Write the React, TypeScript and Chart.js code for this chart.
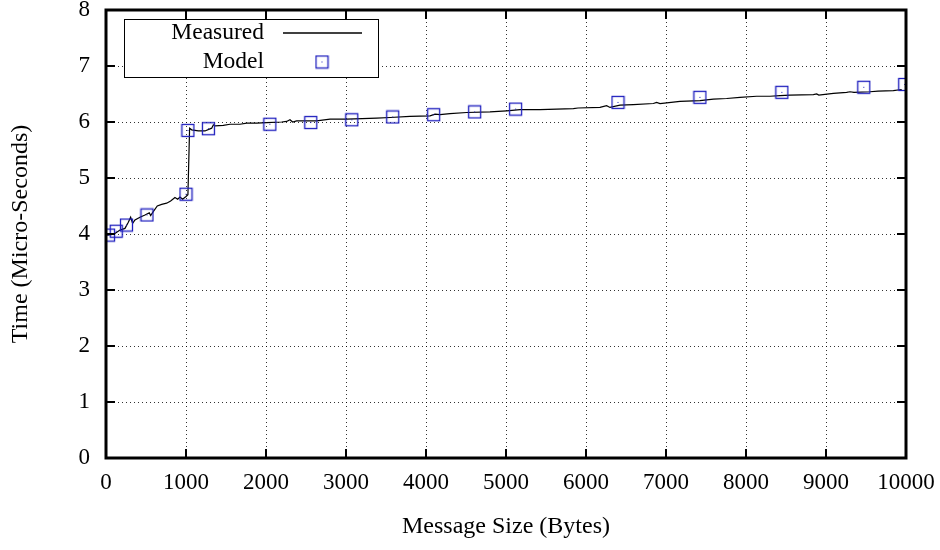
import React, { useEffect, useRef } from "react";
import { Chart, registerables } from "chart.js";

Chart.register(...registerables);

const measuredSizes = [
  8, 64, 112, 175, 237, 279, 308, 333, 362, 425, 487, 541, 558, 591, 641, 696, 758, 808, 862, 896,
  925, 958, 1000, 1024, 1045, 1071, 1154, 1237, 1321, 1342, 1362, 1466, 1550, 1675, 1758, 1883,
  2008, 2196, 2258, 2300, 2333, 2383, 2463, 2550, 2633, 2800, 3008, 3200, 3383, 3550, 3800, 4050,
  4113, 4175, 4300, 4508, 4800, 5008, 5175, 5425, 5842, 5900, 6175, 6258, 6300, 6425, 6592, 6842,
  6883, 6925, 7175, 7425, 7592, 7758, 7925, 8133, 8300, 8425, 8550, 8842, 8883, 8910, 9092, 9258,
  9300, 9350, 9550, 9650, 9842, 9946,
];
const measuredTimes = [
  3.98, 3.99, 4.01, 4.07, 4.1, 4.21, 4.3, 4.19, 4.25, 4.3, 4.34, 4.38, 4.33, 4.4, 4.5, 4.53, 4.55,
  4.59, 4.65, 4.62, 4.66, 4.62, 4.67, 4.7, 5.89, 5.86, 5.84, 5.84, 5.89, 5.95, 5.93, 5.94, 5.96,
  5.96, 5.98, 5.98, 5.99, 6.0, 6.01, 6.04, 6.0, 6.02, 6.02, 6.02, 6.02, 6.05, 6.05, 6.06, 6.07,
  6.08, 6.1, 6.11, 6.14, 6.13, 6.15, 6.17, 6.18, 6.2, 6.22, 6.22, 6.24, 6.25, 6.26, 6.29, 6.26,
  6.3, 6.31, 6.33, 6.35, 6.33, 6.37, 6.38, 6.41, 6.42, 6.44, 6.46, 6.46, 6.47, 6.48, 6.49, 6.5,
  6.48, 6.51, 6.53, 6.54, 6.53, 6.54, 6.55, 6.56, 6.58,
];

const modelSizes = [32, 128, 256, 512, 1000, 1024, 1280, 2048, 2560, 3072, 3584, 4096, 4608, 5120, 6400, 7424, 8448, 9472, 9984];
const modelTimes = [3.98, 4.05, 4.16, 4.34, 4.71, 5.85, 5.88, 5.96, 5.99, 6.04, 6.09, 6.13, 6.18, 6.23, 6.35, 6.44, 6.53, 6.62, 6.67];

const xTitle = "Message Size (Bytes)";
const yTitle = "Time (Micro-Seconds)";
const legendLabels = ["Measured", "Model"];

const FONT = "Liberation Serif";
const BLUE = "rgb(30,30,190)";

function makeMarker(): HTMLCanvasElement {
  const c = document.createElement("canvas");
  c.width = 15;
  c.height = 15;
  const g = c.getContext("2d")!;
  g.strokeStyle = BLUE;
  g.lineWidth = 1.3;
  g.strokeRect(1.5, 1.5, 12, 12);
  g.fillStyle = BLUE;
  g.fillRect(7, 7, 1, 1);
  return c;
}

const noPad = (s: any) => {
  s.paddingTop = 0;
  s.paddingBottom = 0;
  s.paddingLeft = 0;
  s.paddingRight = 0;
};

export default function App() {
  const ref = useRef<HTMLCanvasElement | null>(null);

  useEffect(() => {
    const canvas = ref.current;
    if (!canvas) return;
    const marker = makeMarker();

    const framePlugin = {
      id: "frame",
      afterDraw(chart: any) {
        const { ctx, chartArea } = chart;
        const { left, right, top, bottom } = chartArea;
        const xs = chart.scales.x;
        const ys = chart.scales.y;
        ctx.save();
        ctx.strokeStyle = "#000";
        ctx.lineWidth = 2;
        const tl = 9;
        xs.ticks.forEach((t: any) => {
          const px = xs.getPixelForValue(t.value);
          ctx.beginPath();
          ctx.moveTo(px, bottom);
          ctx.lineTo(px, bottom - tl);
          ctx.moveTo(px, top);
          ctx.lineTo(px, top + tl);
          ctx.stroke();
        });
        ys.ticks.forEach((t: any) => {
          const py = ys.getPixelForValue(t.value);
          ctx.beginPath();
          ctx.moveTo(left, py);
          ctx.lineTo(left + tl, py);
          ctx.moveTo(right, py);
          ctx.lineTo(right - tl, py);
          ctx.stroke();
        });
        ctx.lineWidth = 3;
        ctx.strokeRect(left, top, right - left, bottom - top);

        // legend
        const bx = 124, by = 19, bw = 254, bh = 58;
        ctx.fillStyle = "#fff";
        ctx.fillRect(bx, by, bw, bh);
        ctx.lineWidth = 1;
        ctx.strokeStyle = "#000";
        ctx.strokeRect(bx + 0.5, by + 0.5, bw, bh);
        ctx.fillStyle = "#000";
        ctx.font = `23.5px "${FONT}"`;
        ctx.textAlign = "right";
        ctx.textBaseline = "middle";
        ctx.fillText(legendLabels[0], 264, 33);
        ctx.fillText(legendLabels[1], 264, 62);
        ctx.lineWidth = 1.3;
        ctx.beginPath();
        ctx.moveTo(283, 33);
        ctx.lineTo(362, 33);
        ctx.stroke();
        ctx.drawImage(marker, 322 - 7.5, 62 - 7.5);
        ctx.restore();
      },
    };

    const chart = new Chart(canvas, {
      type: "scatter",
      data: {
        datasets: [
          {
            label: legendLabels[1],
            data: modelSizes.map((x, i) => ({ x, y: modelTimes[i] })),
            showLine: false,
            pointStyle: marker as any,
            pointRadius: 7,
            pointHoverRadius: 7,
          },
          {
            label: legendLabels[0],
            data: measuredSizes.map((x, i) => ({ x, y: measuredTimes[i] })),
            showLine: true,
            borderColor: "#000",
            borderWidth: 1.2,
            pointRadius: 0,
            tension: 0,
          },
        ],
      },
      options: {
        responsive: false,
        animation: false,
        events: [],
        layout: { padding: { top: 10, right: 34, left: 0, bottom: 0 } },
        plugins: { legend: { display: false }, tooltip: { enabled: false } },
        scales: {
          x: {
            type: "linear",
            min: 0,
            max: 10000,
            ticks: {
              stepSize: 1000,
              color: "#000",
              padding: 11,
              maxRotation: 0,
              autoSkip: false,
              font: { family: FONT, size: 23 },
              callback: (v: any) => String(v),
            },
            grid: { color: "rgba(0,0,0,0.8)", lineWidth: 1, drawTicks: false },
            border: { display: false, dash: [1, 3] },
            title: {
              display: true,
              text: xTitle,
              color: "#000",
              font: { family: FONT, size: 24 },
              padding: { top: 0, bottom: 9 },
            },
            afterFit: (s: any) => {
              s.height = 92;
              noPad(s);
            },
          },
          y: {
            type: "linear",
            min: 0,
            max: 8,
            ticks: {
              stepSize: 1,
              color: "#000",
              padding: 16,
              font: { family: FONT, size: 23 },
              callback: (v: any) => String(v),
            },
            grid: { color: "rgba(0,0,0,0.8)", lineWidth: 1, drawTicks: false },
            border: { display: false, dash: [1, 3] },
            title: {
              display: true,
              text: yTitle,
              color: "#000",
              font: { family: FONT, size: 24 },
              padding: { top: 6, bottom: 0 },
            },
            afterFit: (s: any) => {
              s.width = 106;
              noPad(s);
            },
          },
        },
      },
      plugins: [framePlugin],
    });
    return () => chart.destroy();
  }, []);

  return (
    <div style={{ position: "absolute", left: 0, top: 0, width: 940, height: 550, background: "#fff" }}>
      <canvas ref={ref} width={940} height={550} style={{ width: 940, height: 550 }} />
    </div>
  );
}
